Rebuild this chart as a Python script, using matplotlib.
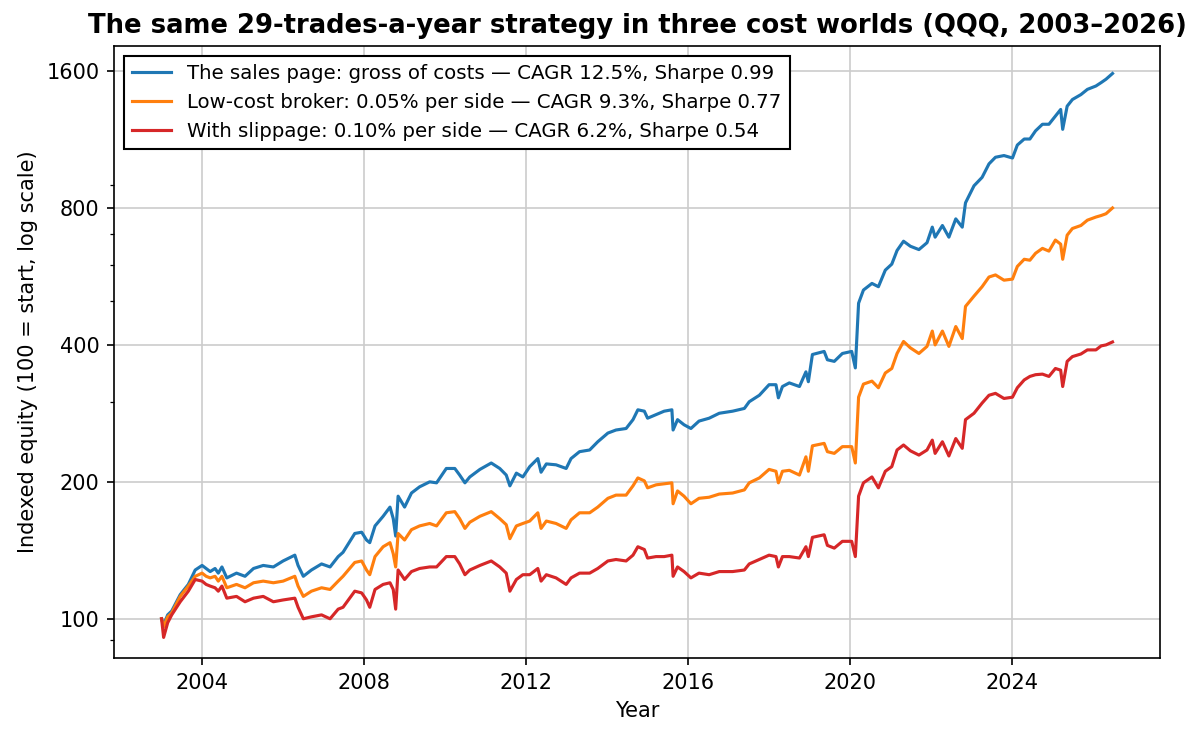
import numpy as np
import matplotlib
matplotlib.use("Agg")
import matplotlib.pyplot as plt
from matplotlib.ticker import FixedLocator, FixedFormatter, NullFormatter

# decimal years
years = [
    2003.00, 2003.05, 2003.15, 2003.25, 2003.46, 2003.66, 2003.83, 2004.00, 2004.10, 2004.20,
    2004.32, 2004.40, 2004.49, 2004.61, 2004.85, 2005.06, 2005.27, 2005.51, 2005.76, 2006.00,
    2006.29, 2006.37, 2006.50, 2006.70, 2006.95, 2007.16, 2007.36, 2007.48, 2007.77, 2007.94,
    2008.06, 2008.14, 2008.27, 2008.47, 2008.64, 2008.72, 2008.78, 2008.84, 2009.00, 2009.17,
    2009.37, 2009.62, 2009.79, 2010.03, 2010.24, 2010.36, 2010.49, 2010.61, 2010.86, 2011.14,
    2011.35, 2011.51, 2011.60, 2011.76, 2011.92, 2012.09, 2012.29, 2012.37, 2012.50, 2012.74,
    2012.99, 2013.11, 2013.32, 2013.57, 2013.77, 2014.02, 2014.22, 2014.47, 2014.64, 2014.76,
    2014.92, 2015.00, 2015.21, 2015.41, 2015.60, 2015.63, 2015.74, 2015.90, 2016.07, 2016.27,
    2016.52, 2016.77, 2017.10, 2017.39, 2017.51, 2017.76, 2018.00, 2018.17, 2018.23, 2018.33,
    2018.50, 2018.75, 2018.91, 2018.97, 2019.07, 2019.36, 2019.44, 2019.61, 2019.81, 2020.04,
    2020.13, 2020.21, 2020.33, 2020.54, 2020.70, 2020.87, 2021.03, 2021.16, 2021.32, 2021.49,
    2021.70, 2021.90, 2022.03, 2022.10, 2022.28, 2022.44, 2022.61, 2022.77, 2022.85, 2023.06,
    2023.26, 2023.43, 2023.59, 2023.80, 2024.01, 2024.13, 2024.30, 2024.44, 2024.58, 2024.75,
    2024.91, 2025.07, 2025.20, 2025.25, 2025.36, 2025.49, 2025.70, 2025.86, 2026.07, 2026.20,
    2026.32, 2026.48,
]

gross = [
    100, 97, 102, 104, 113, 119, 128, 131, 129, 127,
    129, 126, 130, 123, 126, 124, 129, 131, 130, 134,
    138, 131, 124, 128, 132, 130, 137, 140, 154, 155,
    149, 147, 160, 168, 176, 166, 152, 186, 176, 189,
    195, 200, 199, 214, 214, 207, 199, 205, 213, 220,
    214, 207, 196, 209, 205, 216, 225, 210, 219, 218,
    214, 225, 233, 235, 245, 256, 260, 262, 274, 288,
    286, 276, 281, 286, 288, 260, 274, 267, 262, 272,
    276, 283, 286, 290, 300, 310, 327, 327, 306, 324,
    330, 324, 349, 332, 381, 387, 371, 368, 383, 387,
    356, 494, 528, 546, 537, 584, 602, 645, 676, 659,
    648, 671, 726, 690, 732, 690, 757, 726, 821, 895,
    934, 1000, 1034, 1043, 1030, 1100, 1134, 1134, 1182, 1222,
    1222, 1274, 1317, 1191, 1339, 1385, 1420, 1458, 1483, 1509,
    1535, 1580,
]

low_cost = [
    100, 96, 101, 103, 112, 118, 124, 126, 124, 123,
    124, 121, 124, 117, 119, 117, 120, 121, 120, 121,
    124, 118, 112, 115, 117, 116, 121, 124, 133, 134,
    128, 125, 137, 144, 147, 139, 130, 154, 149, 157,
    160, 162, 160, 171, 172, 166, 158, 163, 168, 172,
    166, 161, 150, 160, 162, 164, 171, 158, 164, 162,
    158, 165, 171, 171, 176, 184, 187, 187, 196, 204,
    201, 194, 197, 198, 199, 179, 191, 186, 179, 184,
    185, 188, 189, 192, 199, 204, 213, 211, 199, 211,
    212, 207, 227, 211, 240, 243, 233, 231, 239, 239,
    220, 307, 328, 333, 322, 347, 355, 383, 407, 394,
    383, 397, 429, 400, 429, 397, 439, 413, 486, 512,
    537, 564, 570, 555, 558, 595, 617, 614, 636, 652,
    643, 680, 666, 617, 697, 721, 732, 752, 764, 770,
    777, 800,
]

slippage = [
    100, 91, 98, 102, 109, 115, 122, 121, 119, 118,
    117, 115, 118, 111, 112, 109, 111, 112, 109, 110,
    111, 106, 100, 101, 102, 100, 105, 106, 115, 114,
    110, 106, 116, 119, 120, 116, 105, 128, 122, 127,
    129, 130, 130, 137, 137, 132, 125, 128, 131, 134,
    130, 126, 115, 122, 125, 125, 129, 121, 125, 123,
    119, 123, 126, 126, 129, 134, 135, 134, 138, 144,
    142, 136, 137, 137, 138, 124, 130, 127, 123, 126,
    125, 127, 127, 128, 132, 135, 138, 137, 130, 137,
    137, 136, 144, 137, 151, 153, 145, 143, 148, 148,
    137, 186, 199, 205, 194, 211, 216, 235, 241, 234,
    229, 235, 247, 231, 245, 228, 249, 237, 274, 283,
    298, 310, 313, 305, 307, 322, 335, 341, 344, 345,
    341, 355, 352, 324, 368, 377, 382, 390, 390, 398,
    400, 406,
]

labels = [
    "The sales page: gross of costs \u2014 CAGR 12.5%, Sharpe 0.99",
    "Low-cost broker: 0.05% per side \u2014 CAGR 9.3%, Sharpe 0.77",
    "With slippage: 0.10% per side \u2014 CAGR 6.2%, Sharpe 0.54",
]
colors = ["#1f77b4", "#ff7f0e", "#d62728"]
yticks = [100, 200, 400, 800, 1600]
xticks = [2004, 2008, 2012, 2016, 2020, 2024]

fig, ax = plt.subplots(figsize=(1203 / 150, 737 / 150), dpi=150)
fig.subplots_adjust(left=0.0948, right=0.9643, top=0.9376, bottom=0.1072)

for series, lab, col in zip([gross, low_cost, slippage], labels, colors):
    ax.plot(years, series, color=col, lw=1.5, label=lab)

ax.set_yscale("log")
ax.set_ylim(82, 1816)
ax.yaxis.set_major_locator(FixedLocator(yticks))
ax.yaxis.set_major_formatter(FixedFormatter([str(v) for v in yticks]))
ax.yaxis.set_minor_formatter(NullFormatter())
ax.set_xticks(xticks)
ax.set_xticklabels([str(v) for v in xticks])

ax.grid(True, which="major", color="#cccccc", lw=0.8)
ax.set_axisbelow(True)

ax.set_title("The same 29-trades-a-year strategy in three cost worlds (QQQ, 2003\u20132026)",
             fontsize=12.4, fontweight="bold")
ax.set_xlabel("Year")
ax.set_ylabel("Indexed equity (100 = start, log scale)")

leg = ax.legend(loc="upper left", fontsize=9.5, fancybox=False, framealpha=1,
                edgecolor="black")
leg.get_frame().set_linewidth(1.0)

fig.savefig("out.png", dpi=150)
